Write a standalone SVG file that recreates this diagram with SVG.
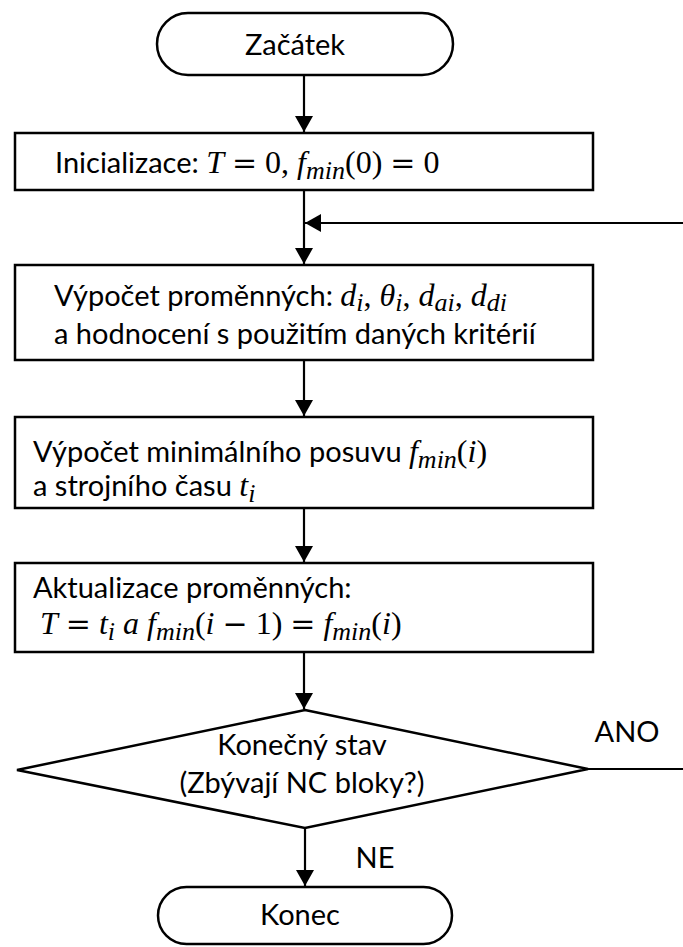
<svg xmlns="http://www.w3.org/2000/svg" width="683" height="947" viewBox="0 0 683 947">
<style>
.n{fill:#fff;stroke:#000;stroke-width:2.5}
.c{fill:none;stroke:#000;stroke-width:2.2}
.t{font-family:Lato,"Open Sans",sans-serif;font-size:29px;fill:#000}
.mi{font-family:"Liberation Serif",serif;font-style:italic;font-size:32px}
.mr{font-family:"Liberation Serif",serif;font-size:32px}
.op{font-family:"DejaVu Serif",serif;font-size:30px}
.sb{font-family:"Liberation Serif",serif;font-style:italic;font-size:26px}
</style>
<defs>
<marker id="ah" markerWidth="16" markerHeight="18" refX="16" refY="9" orient="auto" markerUnits="userSpaceOnUse">
<path d="M0,0 L16,9 L0,18 Z" fill="#000"/>
</marker>
</defs>
<g id="connectors">
<line class="c" x1="304" y1="75" x2="304" y2="132" marker-end="url(#ah)"/>
<line class="c" x1="304" y1="190" x2="304" y2="264" marker-end="url(#ah)"/>
<line class="c" x1="683" y1="223" x2="305" y2="223" marker-end="url(#ah)"/>
<line class="c" x1="304" y1="360" x2="304" y2="416" marker-end="url(#ah)"/>
<line class="c" x1="304" y1="508" x2="304" y2="562" marker-end="url(#ah)"/>
<line class="c" x1="304" y1="652" x2="304" y2="709" marker-end="url(#ah)"/>
<line class="c" x1="588" y1="769" x2="683" y2="769"/>
<line class="c" x1="305" y1="828" x2="305" y2="886" marker-end="url(#ah)"/>
<text class="t" x="627" y="742" text-anchor="middle">ANO</text>
<text class="t" x="375" y="868" text-anchor="middle">NE</text>
</g>
<g id="start">
<rect class="n" x="157" y="13" width="296" height="62" rx="31"/>
<text class="t" x="295" y="55" text-anchor="middle">Začátek</text>
</g>
<g id="init">
<rect class="n" x="15" y="133" width="578" height="57"/>
<text class="t" x="55" y="173">Inicializace: <tspan class="mi">T</tspan><tspan class="mr"> </tspan><tspan class="op">=</tspan><tspan class="mr"> 0, </tspan><tspan class="mi">f</tspan><tspan class="sb" dy="6">min</tspan><tspan class="mr" dy="-6">(0) </tspan><tspan class="op">=</tspan><tspan class="mr"> 0</tspan></text>
</g>
<g id="compute">
<rect class="n" x="15" y="265" width="578" height="95"/>
<text class="t" x="54" y="306">Výpočet proměnných: <tspan class="mi">d</tspan><tspan class="sb" dy="5">i</tspan><tspan class="mr" dy="-5">, </tspan><tspan class="mi">θ</tspan><tspan class="sb" dy="5">i</tspan><tspan class="mr" dy="-5">, </tspan><tspan class="mi">d</tspan><tspan class="sb" dy="5">ai</tspan><tspan class="mr" dy="-5">, </tspan><tspan class="mi">d</tspan><tspan class="sb" dy="5">di</tspan></text>
<text class="t" x="54" y="344">a hodnocení s použitím daných kritérií</text>
</g>
<g id="minfeed">
<rect class="n" x="15" y="417" width="578" height="91"/>
<text class="t" x="33" y="462">Výpočet minimálního posuvu <tspan class="mi">f</tspan><tspan class="sb" dy="6">min</tspan><tspan class="mr" dy="-6">(</tspan><tspan class="mi">i</tspan><tspan class="mr">)</tspan></text>
<text class="t" x="33" y="496">a strojního času <tspan class="mi">t</tspan><tspan class="sb" dy="6">i</tspan></text>
</g>
<g id="update">
<rect class="n" x="15" y="563" width="578" height="89"/>
<text class="t" x="33" y="598">Aktualizace proměnných:</text>
<text class="t" x="40" y="634"><tspan class="mi">T</tspan><tspan class="mr"> </tspan><tspan class="op">=</tspan><tspan class="mr"> </tspan><tspan class="mi">t</tspan><tspan class="sb" dy="6">i</tspan><tspan class="mi" dy="-6"> a  f</tspan><tspan class="sb" dy="6">min</tspan><tspan class="mr" dy="-6">(</tspan><tspan class="mi">i</tspan><tspan class="mr"> </tspan><tspan class="op">−</tspan><tspan class="mr"> 1) </tspan><tspan class="op">=</tspan><tspan class="mr"> </tspan><tspan class="mi">f</tspan><tspan class="sb" dy="6">min</tspan><tspan class="mr" dy="-6">(</tspan><tspan class="mi">i</tspan><tspan class="mr">)</tspan></text>
</g>
<g id="decision">
<polygon class="n" points="305,710 588,769 305,828 17,770"/>
<text class="t" x="302" y="755" text-anchor="middle">Konečný stav</text>
<text class="t" x="302" y="793" text-anchor="middle">(Zbývají NC bloky?)</text>
</g>
<g id="end">
<rect class="n" x="158" y="887" width="294" height="57" rx="28.5"/>
<text class="t" x="300" y="925" text-anchor="middle">Konec</text>
</g>
</svg>
